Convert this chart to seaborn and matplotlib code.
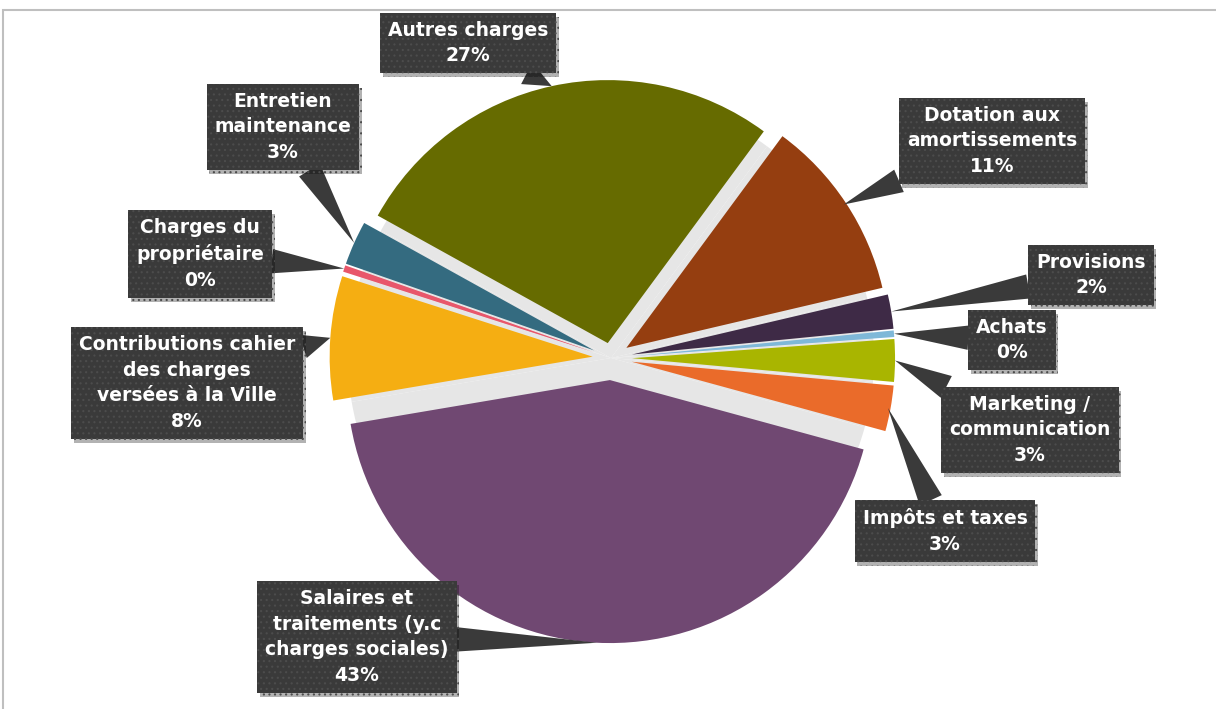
import numpy as np
import matplotlib
matplotlib.use("Agg")
import matplotlib.pyplot as plt
import matplotlib.patheffects as pe
from matplotlib.patches import Rectangle
import seaborn as sns

sns.set_theme(style="white")
plt.rcParams['font.family'] = ['DejaVu Sans']
plt.rcParams['hatch.linewidth'] = 0.8

# ---- data ----
categories = [
    "Autres charges",
    "Dotation aux\namortissements",
    "Provisions",
    "Achats",
    "Marketing /\ncommunication",
    "Impôts et taxes",
    "Salaires et\ntraitements (y.c\ncharges sociales)",
    "Contributions cahier\ndes charges\nversées à la Ville",
    "Charges du\npropriétaire",
    "Entretien\nmaintenance",
]
values = [27.0, 11.2, 2.1, 0.4, 2.6, 2.8, 43.0, 7.6, 0.4, 2.7]
colors = ["#666b00", "#953e10", "#3e2a46", "#7fb8d8", "#a9b500",
          "#ea6b2a", "#704872", "#f5ae12", "#e8576b", "#346b80"]
explode = [0.058, 0.07, 0.08, 0.08, 0.08, 0.08, 0.084, 0.07, 0.07, 0.07]

# label box centres (figure pixels, from top-left) -- layout only
box_px = [(468, 43), (992, 141), (1091, 275), (1012, 340), (1030, 430),
          (945, 531), (357, 637), (187, 383), (200, 254), (283, 127)]
tip_r = [1.0, 0.99, 1.0, 1.0, 1.0, 0.99, 1.0, 1.0, 1.0, 1.0]

W, H = 1216, 709
fig = plt.figure(figsize=(W / 100, H / 100), dpi=100)
ax = fig.add_axes([0, 0, 1, 1])

cx, cy = 611, 358          # pie centre in pixels (from top)
R = 263                    # radius in pixels

startangle = 151
# light-grey backdrop showing through the gaps
ax.pie(values, colors=["#e6e6e6"] * len(values), startangle=startangle,
       counterclock=False, radius=1.0, wedgeprops=dict(linewidth=0))
wedges, _ = ax.pie(values, colors=colors, explode=explode, startangle=startangle,
                   counterclock=False, radius=1.0, wedgeprops=dict(linewidth=0))

ax.set_aspect('auto')
ax.set_xlim(-cx / R, (W - cx) / R)
ax.set_ylim(-(H - cy) / R, cy / R)
ax.axis('off')

total = sum(values)
for i, (w, cat, v) in enumerate(zip(wedges, categories, values)):
    th = np.deg2rad((w.theta1 + w.theta2) / 2)
    c = w.center
    r = tip_r[i]
    xy = (c[0] + r * np.cos(th), c[1] + r * np.sin(th))
    bx, by = box_px[i]
    label = f"{cat}\n{round(v / total * 100)}%"
    t = ax.annotate(label, xy=xy, xycoords='data',
                    xytext=(bx / W, 1 - by / H), textcoords='figure fraction',
                    ha='center', va='center', multialignment='center',
                    color='white', fontsize=13.5, fontweight='bold',
                    linespacing=1.45,
                    bbox=dict(boxstyle='square,pad=0.42', fc='#3a3a3a',
                              ec='#4c4c4c', lw=0, hatch='...'),
                    arrowprops=dict(arrowstyle='wedge,tail_width=1.3,shrink_factor=0.5',
                                    fc='#3a3a3a', ec='none',
                                    shrinkA=0, shrinkB=0),
                    zorder=5)
    t.get_bbox_patch().set_path_effects([
        pe.SimplePatchShadow(offset=(2, -3), shadow_rgbFace='#000000', alpha=0.3),
        pe.Normal()])

# outer frame
fig.patches.append(Rectangle((3 / W, -0.02), 1.5, 1 - 10 / H + 0.02,
                             transform=fig.transFigure, fill=False,
                             ec='#bfbfbf', lw=1.5, zorder=0))

fig.savefig("out.png", dpi=100)
